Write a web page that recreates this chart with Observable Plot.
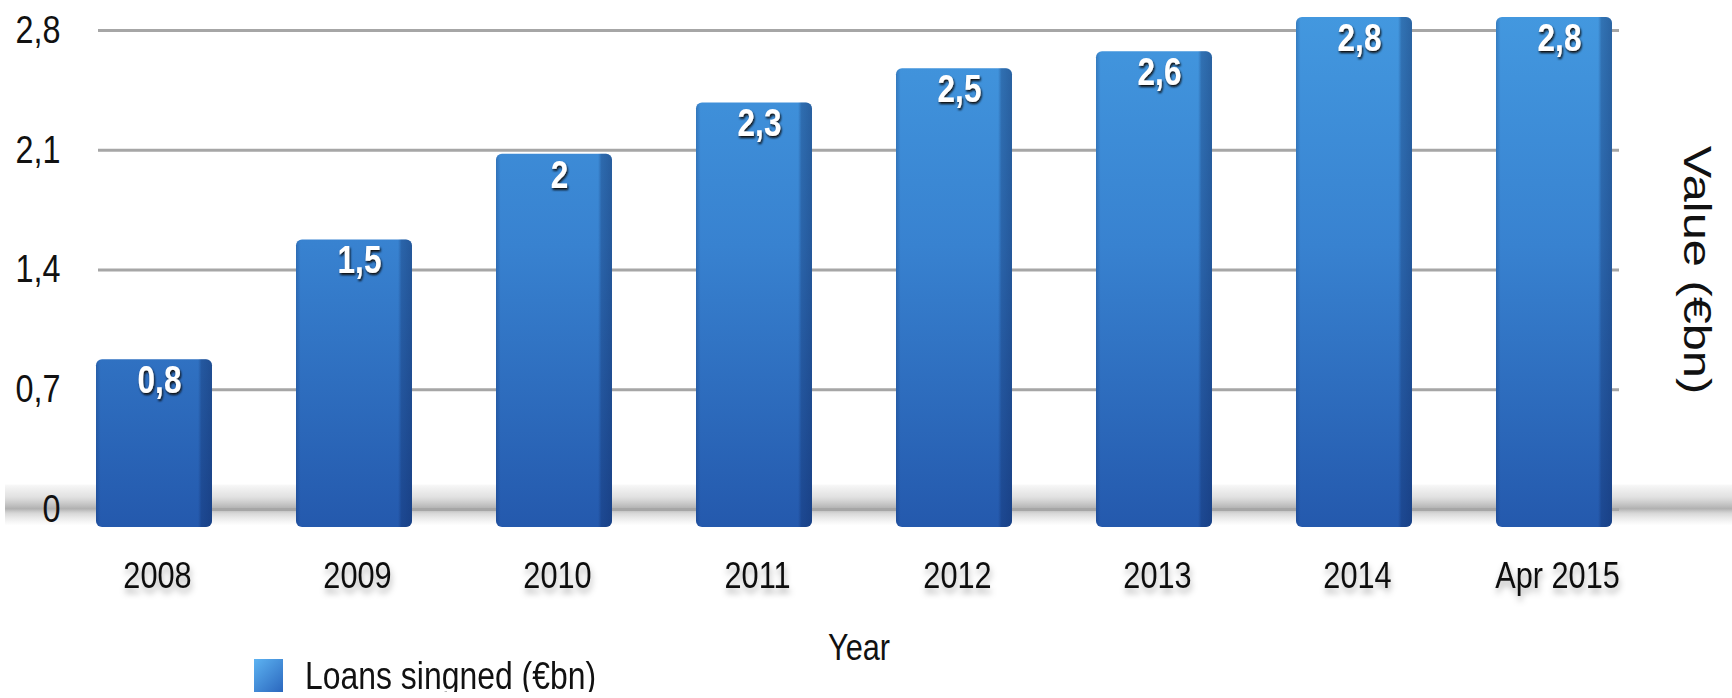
<!DOCTYPE html>
<html><head><meta charset="utf-8">
<script src="https://cdn.jsdelivr.net/npm/d3@7"></script>
<script src="https://cdn.jsdelivr.net/npm/@observablehq/plot@0.6"></script>
<style>
html,body{margin:0;padding:0;background:#fff;overflow:hidden;}
#legend{display:flex;align-items:center;height:32px;margin-left:254px;font-family:"Liberation Sans",Arial,sans-serif;font-size:38px;color:#111;line-height:1;}
#legend .sw{display:inline-block;width:29px;height:34px;background:linear-gradient(135deg,#5db3f2,#2a66bd);margin-right:22px;}
#legend .lbl{display:inline-block;transform:scaleX(0.84);transform-origin:left center;white-space:nowrap;}
</style></head><body>
<div id="chart"></div>
<div id="legend"><span class="sw"></span><span class="lbl"></span></div>
<script>
const categories = ["2008", "2009", "2010", "2011", "2012", "2013", "2014", "Apr 2015"];
const loans = [0.8, 1.5, 2, 2.3, 2.5, 2.6, 2.8, 2.8];
const yTicks = [0, 0.7, 1.4, 2.1, 2.8];
const seriesName = "Loans singned (€bn)";
const xTitle = "Year";
const yTitle = "Value (€bn)";

const fmt = v => String(v).replace(".", ",");
const data = categories.map((c, i) => ({cat: c, value: loans[i]}));
const FONT = '"Liberation Sans",Arial,sans-serif';

const chart = Plot.plot({
  width: 1732, height: 660,
  marginLeft: 98, marginRight: 113, marginTop: 30, marginBottom: 151,
  style: {fontFamily: FONT, fontSize: "37px", color: "#111", overflow: "visible", background: "transparent"},
  x: {type: "band", domain: categories, range: [11, 1697], padding: 0.42, label: null},
  y: {domain: [0, 2.8], label: null},
  marks: [
    Plot.ruleY([0], {stroke: "url(#floorGrad)", strokeWidth: 44, dy: -3, insetLeft: -93, insetRight: -113}),
    Plot.gridY({ticks: yTicks, stroke: "#a6a6a6", strokeWidth: 3, strokeOpacity: 1}),
    Plot.barY(data, {x: "cat", y: "value", fill: "url(#barFront)", insetTop: -13, insetBottom: -18, rx: 6}),
    Plot.barY(data, {x: "cat", y: "value", fill: "url(#barShade)", insetTop: -13, insetBottom: -18, rx: 6}),
    Plot.text(data, {x: "cat", y: "value", text: d => fmt(d.value), dy: 8, dx: 5, fill: "white", fontWeight: "bold", fontSize: 38}),
    Plot.axisY({ticks: yTicks, tickSize: 0, tickPadding: 38, tickFormat: fmt, fontSize: 39, label: null}),
    Plot.axisX({tickSize: 0, tickPadding: 52, fontSize: 37, dx: 3, label: null}),
    Plot.text([xTitle], {frameAnchor: "bottom", dy: 139, lineAnchor: "middle", textAnchor: "middle", fontSize: 37}),
    Plot.text([yTitle], {frameAnchor: "right", dx: 77, rotate: 90, textAnchor: "middle", lineAnchor: "middle", fontSize: 39})
  ]
});
document.getElementById("chart").appendChild(chart);
document.querySelector("#legend .lbl").textContent = seriesName;

// decorative definitions (gradients & shadows)
const svg = d3.select(chart);
const yS = chart.scale("y");
const y0 = yS.apply(0);
const defs = svg.insert("defs", ":first-child");
const gF = defs.append("linearGradient").attr("id", "barFront").attr("gradientUnits", "userSpaceOnUse")
  .attr("x1", 0).attr("x2", 0).attr("y1", yS.apply(yTicks[yTicks.length - 1]) - 15).attr("y2", y0 + 18);
[["0%", "#4398df"], ["45%", "#3882d0"], ["100%", "#2459ad"]].forEach(([o, c]) => gF.append("stop").attr("offset", o).attr("stop-color", c));
const gS = defs.append("linearGradient").attr("id", "barShade").attr("x1", 0).attr("x2", 1).attr("y1", 0).attr("y2", 0);
[["0%", "rgba(10,30,80,0.22)"], ["4%", "rgba(10,30,80,0)"], ["88%", "rgba(10,30,80,0)"], ["91%", "rgba(10,30,80,0.3)"], ["100%", "rgba(10,30,80,0.42)"]]
  .forEach(([o, c]) => gS.append("stop").attr("offset", o).attr("stop-color", c));
const gFl = defs.append("linearGradient").attr("id", "floorGrad").attr("gradientUnits", "userSpaceOnUse")
  .attr("x1", 0).attr("x2", 0).attr("y1", y0 - 25).attr("y2", y0 + 19);
[["0%", "rgba(160,160,160,0)"], ["35%", "rgba(170,170,170,0.35)"], ["62%", "rgba(150,150,150,0.75)"], ["72%", "rgba(175,175,175,0.5)"], ["100%", "rgba(200,200,200,0)"]]
  .forEach(([o, c]) => gFl.append("stop").attr("offset", o).attr("stop-color", c));
const fv = defs.append("filter").attr("id", "valShadow").attr("x", "-20%").attr("y", "-20%").attr("width", "140%").attr("height", "160%");
fv.append("feDropShadow").attr("dx", 1).attr("dy", 2).attr("stdDeviation", 1.3).attr("flood-color", "#111").attr("flood-opacity", 1);
const fx = defs.append("filter").attr("id", "txtShadow").attr("x", "-20%").attr("y", "-20%").attr("width", "140%").attr("height", "180%");
fx.append("feDropShadow").attr("dx", 1).attr("dy", 5).attr("stdDeviation", 3).attr("flood-color", "#000").attr("flood-opacity", 0.3);

svg.selectAll('g[fill="white"]').attr("filter", "url(#valShadow)");
svg.selectAll('g[aria-label^="x-axis"]').attr("filter", "url(#txtShadow)");

// condensed lettering: squeeze horizontal text, stretch the rotated title along its length
svg.selectAll("text").each(function() {
  const isTitle = this.textContent === yTitle;
  const sc = isTitle ? " scale(1.25,1)" : " scale(0.83,1)";
  const t = this.getAttribute("transform");
  if (t) {
    this.setAttribute("transform", t + sc);
  } else {
    const x = +this.getAttribute("x") || 0, y = +this.getAttribute("y") || 0;
    this.removeAttribute("x"); this.removeAttribute("y");
    this.setAttribute("transform", `translate(${x},${y})` + sc);
  }
});
</script>
</body></html>
